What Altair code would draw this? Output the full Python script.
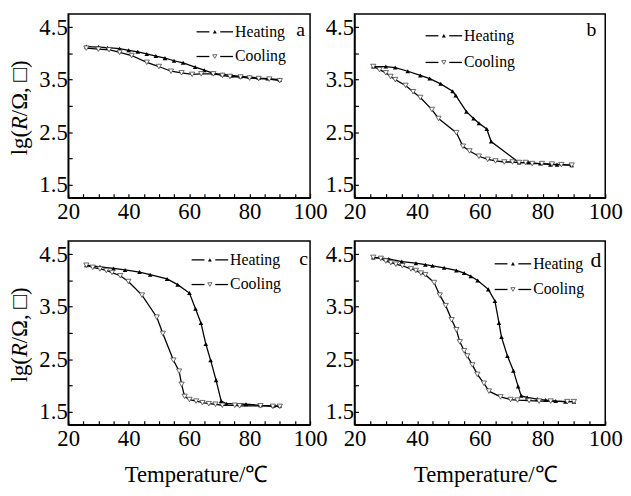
import altair as alt
import pandas as pd

# ---------------- data ----------------
a_heat_T = [26, 30, 33, 37, 40, 43, 46, 49, 52, 55, 58, 62, 65, 68, 71, 74, 77, 80, 83, 86, 90]
a_heat_v = [4.13, 4.12, 4.11, 4.09, 4.06, 4.03, 3.99, 3.95, 3.91, 3.86, 3.82, 3.74, 3.68, 3.62, 3.60, 3.58, 3.56, 3.55, 3.53, 3.52, 3.50]
a_cool_T = [26, 30, 33.5, 37, 41, 46, 50, 54, 57.5, 61, 64, 68, 71, 73.5, 77, 80, 83, 86.5, 90]
a_cool_v = [4.10, 4.08, 4.07, 4.02, 3.96, 3.83, 3.75, 3.66, 3.63, 3.60, 3.61, 3.61, 3.58, 3.56, 3.55, 3.53, 3.52, 3.51, 3.48]

b_heat_T = [26, 30, 33, 37, 41, 44, 47.5, 51.3, 52.3, 55.7, 58, 59.7, 62.2, 63.6, 72.5, 75.6, 79.3, 82.5, 84.6, 89.3]
b_heat_v = [3.75, 3.75, 3.73, 3.66, 3.58, 3.52, 3.42, 3.28, 3.20, 2.89, 2.76, 2.67, 2.56, 2.32, 1.92, 1.92, 1.90, 1.88, 1.88, 1.87]
b_cool_T = [26, 28, 30, 31.5, 33, 36.3, 38.7, 41, 44.7, 46.8, 52.5, 54.6, 56.7, 59.7, 62.5, 65, 67.8, 70.4, 72.5, 74.6, 76.7, 79.8, 83, 86, 89.3]
b_cool_v = [3.75, 3.69, 3.63, 3.56, 3.50, 3.39, 3.27, 3.16, 2.93, 2.76, 2.49, 2.23, 2.14, 2.04, 1.98, 1.95, 1.93, 1.93, 1.92, 1.92, 1.90, 1.90, 1.89, 1.88, 1.87]

c_heat_T = [26, 30.5, 35, 38.8, 43.6, 47.1, 52.7, 56.2, 60.1, 62.1, 63.9, 65.5, 67.1, 68.9, 70.6, 72.4, 78.8, 83.6, 87.9, 90]
c_heat_v = [4.29, 4.26, 4.23, 4.20, 4.16, 4.11, 4.03, 3.92, 3.76, 3.46, 3.19, 2.79, 2.48, 2.10, 1.70, 1.65, 1.64, 1.62, 1.61, 1.61]
c_cool_T = [26, 28.1, 30.5, 32.6, 34.5, 37.2, 39.9, 44.4, 49.3, 51.3, 54.8, 56.7, 57.5, 58.5, 60.1, 62.3, 64.4, 66.5, 68.7, 71, 75.1, 76.7, 83.6, 87.7, 90]
c_cool_v = [4.29, 4.25, 4.22, 4.19, 4.15, 4.09, 3.98, 3.72, 3.30, 2.99, 2.48, 2.27, 2.02, 1.79, 1.73, 1.70, 1.67, 1.65, 1.64, 1.62, 1.62, 1.61, 1.61, 1.60, 1.60]

d_heat_T = [26, 30.9, 35.1, 39.6, 42.6, 44.9, 48.6, 52.5, 55, 57.1, 59.3, 62.7, 64.8, 66.1, 66.9, 68.8, 70.7, 72.2, 73.2, 75.1, 78.3, 81, 84.2, 87.3, 90]
d_heat_v = [4.44, 4.41, 4.36, 4.33, 4.30, 4.28, 4.24, 4.19, 4.14, 4.08, 4.00, 3.83, 3.61, 3.19, 2.92, 2.56, 2.28, 1.98, 1.80, 1.77, 1.74, 1.72, 1.70, 1.69, 1.69]
d_cool_T = [26, 28.4, 30, 31.6, 33.2, 35.3, 38, 39.6, 41.2, 42.6, 45.4, 47.2, 49.1, 51, 52.5, 53.6, 55, 56, 57.6, 59.2, 61.3, 62.9, 66.6, 69.8, 72, 75.7, 78.9, 82.6, 87.9, 90]
d_cool_v = [4.44, 4.42, 4.37, 4.34, 4.31, 4.28, 4.22, 4.19, 4.14, 4.11, 3.96, 3.72, 3.52, 3.25, 3.06, 2.83, 2.66, 2.56, 2.39, 2.21, 2.04, 1.89, 1.78, 1.73, 1.72, 1.71, 1.70, 1.70, 1.69, 1.69]

x_ticks = list(range(20, 101, 5))
y_ticks = [1.5, 2.0, 2.5, 3.0, 3.5, 4.0, 4.5]
series_names = ["Heating", "Cooling"]
x_title = "Temperature/℃"

SERIF = "Liberation Serif, Times New Roman, serif"
H = 186


def make_df(hT, hv, cT, cv):
    return pd.concat([
        pd.DataFrame({"T": hT, "v": hv, "s": series_names[0]}),
        pd.DataFrame({"T": cT, "v": cv, "s": series_names[1]}),
    ], ignore_index=True)


def panel(df, width, letter, lx, ly, lsize, leg_x, leg_y1, leg_y2, ytitle, xtitle_x):
    base = alt.Chart(df)
    X = alt.X("T:Q", scale=alt.Scale(domain=[20, 100], nice=False, zero=False),
              axis=alt.Axis(values=x_ticks, title=None, grid=False,
                            labelExpr="datum.value % 20 == 0 ? datum.label : ''",
                            labelFont=SERIF, labelFontSize=23, labelColor="black",
                            tickSize=alt.ExprRef(expr="-4"), labelPadding=7,
                            labelFlush=False, labelOverlap=False))
    Y = alt.Y("v:Q", scale=alt.Scale(domain=[1.25, 4.75], nice=False, zero=False),
              axis=alt.Axis(values=y_ticks, title=None, grid=False,
                            labelExpr="(datum.value * 2) % 2 == 1 ? format(datum.value, '.1f') : ''",
                            labelFont=SERIF, labelFontSize=23, labelColor="black",
                            tickSize=alt.ExprRef(expr="-4"), labelPadding=5,
                            labelFlush=False, labelOverlap=False))
    heat = base.transform_filter(alt.datum.s == series_names[0])
    cool = base.transform_filter(alt.datum.s == series_names[1])
    layers = [
        heat.mark_line(color="black", strokeWidth=1.3).encode(x=X, y=Y),
        cool.mark_line(color="black", strokeWidth=1.3).encode(x=X, y=Y),
        heat.mark_point(shape="triangle-up", filled=True, color="black", size=22, opacity=1).encode(x=X, y=Y),
        cool.mark_point(shape="triangle-down", filled=True, fill="white", stroke="#444", strokeWidth=0.8,
                        size=28, opacity=1).encode(x=X, y=Y),
    ]
    one = alt.Chart(pd.DataFrame({"k": [0]}))
    for yy, shp, nm in [(leg_y1, "triangle-up", series_names[0]), (leg_y2, "triangle-down", series_names[1])]:
        layers.append(one.mark_rule(color="black", strokeWidth=1.3).encode(
            x=alt.value(leg_x), x2=alt.value(leg_x + 13), y=alt.value(yy)))
        layers.append(one.mark_rule(color="black", strokeWidth=1.3).encode(
            x=alt.value(leg_x + 24), x2=alt.value(leg_x + 37), y=alt.value(yy)))
        if nm == series_names[0]:
            layers.append(one.mark_point(shape=shp, filled=True, color="black", size=16, opacity=1).encode(
                x=alt.value(leg_x + 18.5), y=alt.value(yy)))
        else:
            layers.append(one.mark_point(shape=shp, filled=True, fill="white", stroke="#444", strokeWidth=0.8,
                                         size=18, opacity=1).encode(x=alt.value(leg_x + 18.5), y=alt.value(yy)))
        layers.append(one.mark_text(align="left", baseline="middle", font=SERIF, fontSize=16, color="black").encode(
            x=alt.value(leg_x + 39), y=alt.value(yy), text=alt.value(nm)))
    layers.append(one.mark_text(align="left", baseline="alphabetic", font=SERIF, fontSize=lsize, color="black").encode(
        x=alt.value(lx), y=alt.value(ly), text=alt.value(letter)))
    if ytitle:
        # lg(R/Ω, □) with italic R, rotated
        yb = 143
        layers.append(one.mark_text(angle=270, align="left", baseline="top", font=SERIF, fontSize=23, color="black").encode(
            x=alt.value(-60), y=alt.value(yb), text=alt.value("lg(")))
        layers.append(one.mark_text(angle=270, align="left", baseline="top", font=SERIF, fontSize=23, fontStyle="italic",
                                    color="black").encode(x=alt.value(-60), y=alt.value(yb - 25.6), text=alt.value("R")))
        layers.append(one.mark_text(angle=270, align="left", baseline="top", font=SERIF, fontSize=23, color="black").encode(
            x=alt.value(-60), y=alt.value(yb - 25.6 - 14.0), text=alt.value("/Ω, □)")))
    if xtitle_x is not None:
        layers.append(one.mark_text(align="center", baseline="middle", font=SERIF, fontSize=23, color="black").encode(
            x=alt.value(xtitle_x), y=alt.value(H + 51), text=alt.value(x_title)))
    return alt.layer(*layers).properties(width=width, height=H)


pa = panel(make_df(a_heat_T, a_heat_v, a_cool_T, a_cool_v), 245, "a", 231, 22, 20, 130, 18, 43, True, None)
pb = panel(make_df(b_heat_T, b_heat_v, b_cool_T, b_cool_v), 254, "b", 235, 22, 20, 72, 22, 49, False, None)
pc = panel(make_df(c_heat_T, c_heat_v, c_cool_T, c_cool_v), 245, "c", 234, 24, 20, 125, 19, 44, True, 130)
pd_ = panel(make_df(d_heat_T, d_heat_v, d_cool_T, d_cool_v), 254, "d", 239, 26, 22, 142, 23, 49, False, 133)

chart = alt.concat(
    pa, pb, pc, pd_, columns=2, spacing={"row": 44, "column": 45}, bounds="flush",
).properties(
    padding={"left": 0, "top": 2, "right": 0, "bottom": 0},
    background="white",
).configure_view(
    stroke="black", strokeWidth=1.5
).configure_axis(
    labelFont=SERIF, labelFontSize=23, labelColor="black",
    domainColor="black", domainWidth=1.5, tickColor="black", tickWidth=1.2,
)

chart.save("out.html", embed_options={"renderer": "svg", "actions": False})
